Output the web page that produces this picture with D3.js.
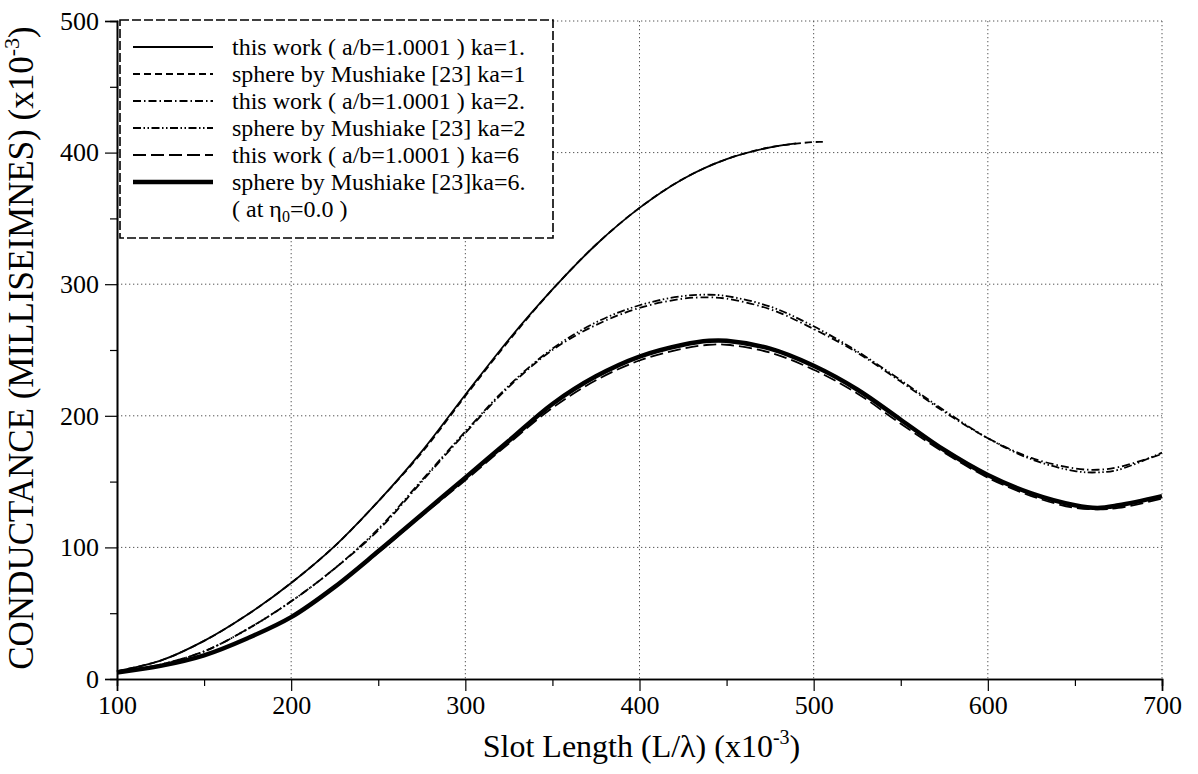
<!DOCTYPE html>
<html>
<head>
<meta charset="utf-8">
<script src="https://cdn.jsdelivr.net/npm/d3@7"></script>
<style>
  body { margin: 0; background: #fff; }
  text { font-family: "Liberation Serif", serif; fill: #000; }
</style>
</head>
<body>
<svg width="1198" height="774"></svg>
<script>
  // Slot length (x10^-3) and conductance values
  var ka1ThisX   = [100, 125, 150, 175, 200, 225, 250, 275, 300, 325, 350, 375, 400, 425, 450, 475, 490];
  var ka1ThisY   = [6, 14, 29, 49, 73, 101, 135, 173, 216, 258, 296, 330, 358, 380, 395, 404, 407];
  var ka1SphereX = [100, 125, 150, 175, 200, 225, 250, 275, 300, 325, 350, 375, 400, 425, 450, 475, 500, 507];
  var ka1SphereY = [6, 14, 29, 49, 73, 101, 135, 172, 215, 257, 296, 330, 358, 380, 395, 404, 408, 408];

  var fullX = [100, 125, 150, 175, 200, 225, 250, 275, 300, 325, 350, 375, 400, 425, 440, 450, 475, 500, 525, 550, 575, 600, 625, 650, 663, 675, 700];
  var ka2ThisY   = [5, 11, 21, 38, 59, 84, 113, 150, 187, 222, 250, 269, 282, 289, 290, 289, 281, 266, 248, 226, 203, 183, 168, 160, 159, 161, 171];
  var ka2SphereY = [5, 11, 21, 38, 59, 84, 114, 151, 188, 223, 251, 271, 284, 291, 292, 291, 283, 268, 249, 227, 204, 183, 167, 158, 157, 159, 172];
  var ka6ThisY   = [5, 10, 18, 31, 47, 70, 96, 124, 151, 179, 206, 227, 242, 251, 254, 254, 248, 235, 217, 194, 172, 153, 139, 130, 129, 130, 137];
  var ka6SphereY = [5, 10, 18, 31, 47, 70, 97, 125, 153, 181, 209, 230, 245, 254, 257, 257, 251, 238, 220, 197, 174, 155, 141, 132, 130, 132, 139];

  var legendLabels = [
    "this work ( a/b=1.0001 ) ka=1.",
    "sphere by Mushiake [23] ka=1",
    "this work ( a/b=1.0001 ) ka=2.",
    "sphere by Mushiake [23] ka=2",
    "this work ( a/b=1.0001 ) ka=6",
    "sphere by Mushiake [23]ka=6."
  ];
  var xTicks = [100, 200, 300, 400, 500, 600, 700];
  var yTicks = [0, 100, 200, 300, 400, 500];

  var svg = d3.select("svg"),
      margin = {top: 21, right: 36, bottom: 95, left: 117},
      width = +svg.attr("width") - margin.left - margin.right,
      height = +svg.attr("height") - margin.top - margin.bottom,
      g = svg.append("g").attr("transform", "translate(" + margin.left + "," + margin.top + ")");

  var x = d3.scaleLinear().domain([100, 700]).range([0, width]);
  var y = d3.scaleLinear().domain([0, 500]).range([height, 0]);

  // dotted grid
  var grid = g.append("g").attr("stroke", "#555").attr("stroke-width", 1)
      .attr("stroke-dasharray", "1.3,2.7");
  grid.selectAll(".gx").data(xTicks.slice(1)).enter().append("line")
      .attr("x1", function(d) { return x(d); }).attr("x2", function(d) { return x(d); })
      .attr("y1", 0).attr("y2", height);
  grid.selectAll(".gy").data(yTicks.slice(1)).enter().append("line")
      .attr("x1", 0).attr("x2", width)
      .attr("y1", function(d) { return y(d); }).attr("y2", function(d) { return y(d); });

  // axes
  g.append("g")
      .attr("transform", "translate(0," + height + ")")
      .call(d3.axisBottom(x).tickValues(xTicks).tickSize(12).tickPadding(5));
  g.append("g")
      .attr("transform", "translate(0," + height + ")")
      .call(d3.axisBottom(x).tickValues(d3.range(150, 700, 100)).tickSize(7).tickFormat(""));
  g.append("g")
      .call(d3.axisLeft(y).tickValues(yTicks).tickSize(12).tickPadding(6));
  g.append("g")
      .call(d3.axisLeft(y).tickValues(d3.range(50, 500, 100)).tickSize(7).tickFormat(""));

  g.selectAll(".domain").attr("stroke", "#000").attr("stroke-width", 1.6);
  g.selectAll(".tick line").attr("stroke", "#000").attr("stroke-width", 1.2);
  g.selectAll(".tick text").attr("font-family", "Liberation Serif, serif").attr("font-size", 26).attr("fill", "#000");

  // curves
  var line = d3.line()
      .x(function(d) { return x(d[0]); })
      .y(function(d) { return y(d[1]); })
      .curve(d3.curveCatmullRom);

  var styles = [
    {w: 1.8, dash: null},
    {w: 1.8, dash: "7,4"},
    {w: 1.8, dash: "8,3,1.5,3"},
    {w: 1.8, dash: "8,2.5,1.5,2.5,1.5,2.5"},
    {w: 1.8, dash: "13,5"},
    {w: 4.5, dash: null}
  ];

  var series = [
    d3.zip(ka1ThisX, ka1ThisY),
    d3.zip(ka1SphereX, ka1SphereY),
    d3.zip(fullX, ka2ThisY),
    d3.zip(fullX, ka2SphereY),
    d3.zip(fullX, ka6ThisY),
    d3.zip(fullX, ka6SphereY)
  ];

  g.selectAll(".curve").data(series).enter().append("path")
      .attr("class", "curve")
      .attr("fill", "none")
      .attr("stroke", "#000")
      .attr("stroke-width", function(d, i) { return styles[i].w; })
      .attr("stroke-dasharray", function(d, i) { return styles[i].dash; })
      .attr("d", line);

  // legend
  var leg = svg.append("g");
  leg.append("rect")
      .attr("x", 120).attr("y", 20).attr("width", 433).attr("height", 218)
      .attr("fill", "#fff").attr("stroke", "#000").attr("stroke-width", 1.6)
      .attr("stroke-dasharray", "9,3");

  var rowY = function(i) { return 47 + i * 27; };
  legendLabels.forEach(function(lbl, i) {
    leg.append("line")
        .attr("x1", 133).attr("x2", 213)
        .attr("y1", rowY(i)).attr("y2", rowY(i))
        .attr("stroke", "#000")
        .attr("stroke-width", styles[i].w)
        .attr("stroke-dasharray", styles[i].dash);
    leg.append("text")
        .attr("x", 232).attr("y", rowY(i) + 8)
        .attr("font-size", 24)
        .text(lbl);
  });
  var eta = leg.append("text").attr("x", 232).attr("y", rowY(6) + 8).attr("font-size", 24);
  eta.append("tspan").text("( at η");
  eta.append("tspan").attr("font-size", 16).attr("dy", 5).text("0");
  eta.append("tspan").attr("dy", -5).text("=0.0 )");

  // axis titles
  var xt = svg.append("text")
      .attr("x", margin.left + width / 2 + 2).attr("y", 757)
      .attr("text-anchor", "middle").attr("font-size", 32);
  xt.append("tspan").text("Slot Length (L/λ) (x10");
  xt.append("tspan").attr("font-size", 20).attr("dy", -13).text("-3");
  xt.append("tspan").attr("dy", 13).text(")");

  var yt = svg.append("text")
      .attr("transform", "translate(33,348) rotate(-90)")
      .attr("text-anchor", "middle").attr("font-size", 35);
  yt.append("tspan").text("CONDUCTANCE (MILLISEIMNES) (x10");
  yt.append("tspan").attr("font-size", 22).attr("dy", -14).text("-3");
  yt.append("tspan").attr("dy", 14).text(")");
</script>
</body>
</html>
